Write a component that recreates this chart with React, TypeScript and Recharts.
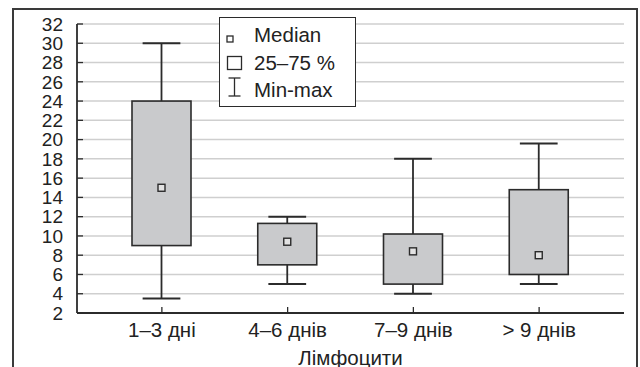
import React from "react";
import {
  ComposedChart,
  Bar,
  XAxis,
  YAxis,
  CartesianGrid,
} from "recharts";

// Group labels (days since onset)
const categories = ["1–3 дні", "4–6 днів", "7–9 днів", "> 9 днів"];
// Box-plot statistics per group
const minValues = [3.5, 5, 4, 5];
const q1Values = [9, 7, 5, 6];
const medianValues = [15, 9.4, 8.4, 8];
const q3Values = [24, 11.3, 10.2, 14.8];
const maxValues = [30, 12, 18, 19.6];
const yTicks = [2, 4, 6, 8, 10, 12, 14, 16, 18, 20, 22, 24, 26, 28, 30, 32];

const data = categories.map((name, i) => ({
  name,
  min: minValues[i],
  q1: q1Values[i],
  median: medianValues[i],
  q3: q3Values[i],
  max: maxValues[i],
}));

const FONT = "'Liberation Sans', Arial, Helvetica, sans-serif";
const DARK = "#2b2b2b";
const TEXT = "#222";

// Draws whisker, box and median marker inside the min..max band of each bar.
const BoxShape = (props: any) => {
  const { x, width, payload } = props;
  let { y, height } = props;
  if (height < 0) {
    y = y + height;
    height = -height;
  }
  const { min, q1, median, q3, max } = payload;
  const k = height / (max - min);
  const py = (v: number) => y + (max - v) * k;
  const cx = x + width / 2;
  const cap = width * 0.32;
  const m = 3.5;
  return (
    <g>
      <line x1={cx} x2={cx} y1={py(max)} y2={py(min)} stroke={DARK} strokeWidth={1.8} />
      <line x1={cx - cap} x2={cx + cap} y1={py(max)} y2={py(max)} stroke={DARK} strokeWidth={2} />
      <line x1={cx - cap} x2={cx + cap} y1={py(min)} y2={py(min)} stroke={DARK} strokeWidth={2} />
      <rect
        x={x}
        y={py(q3)}
        width={width}
        height={py(q1) - py(q3)}
        fill="#c9cacc"
        stroke={DARK}
        strokeWidth={1.6}
      />
      <rect
        x={cx - m}
        y={py(median) - m}
        width={m * 2}
        height={m * 2}
        fill="#e2e2e2"
        stroke={DARK}
        strokeWidth={1.4}
      />
    </g>
  );
};

const LegendBox = () => (
  <div
    style={{
      position: "absolute",
      left: 219,
      top: 17,
      width: 137,
      height: 90,
      border: `1.5px solid ${DARK}`,
      background: "#fff",
      fontFamily: FONT,
      fontSize: 20.5,
      color: TEXT,
      boxSizing: "border-box",
      whiteSpace: "nowrap",
    }}
  >
    <svg width={30} height={88} style={{ position: "absolute", left: 0, top: 0 }}>
      <rect x={7} y={18} width={6} height={6} fill="#fff" stroke={DARK} strokeWidth={1.3} />
      <rect x={7.5} y={38.5} width={14} height={13} fill="#fff" stroke={DARK} strokeWidth={1.3} />
      <line x1={14.5} x2={14.5} y1={60} y2={78} stroke={DARK} strokeWidth={1.3} />
      <line x1={8.5} x2={20.5} y1={60} y2={60} stroke={DARK} strokeWidth={1.3} />
      <line x1={8.5} x2={20.5} y1={78} y2={78} stroke={DARK} strokeWidth={1.3} />
    </svg>
    <div style={{ position: "absolute", left: 34, top: 7, lineHeight: "20px" }}>Median</div>
    <div style={{ position: "absolute", left: 34, top: 35, lineHeight: "20px" }}>25–75 %</div>
    <div style={{ position: "absolute", left: 34, top: 62, lineHeight: "20px" }}>Min-max</div>
  </div>
);

export default function App() {
  return (
    <div style={{ position: "absolute", left: 0, top: 0, width: 640, height: 367, overflow: "hidden", background: "#fff" }}>
      <div
        style={{
          position: "absolute",
          left: 12,
          top: 8,
          width: 626,
          height: 400,
          border: `2px solid #3a3a3a`,
          boxSizing: "border-box",
        }}
      />
      <ComposedChart
        width={640}
        height={367}
        data={data}
        margin={{ top: 24, right: 16, bottom: 0, left: 0 }}
        style={{ position: "absolute", left: 0, top: 0, fontFamily: FONT }}
      >
        <CartesianGrid vertical={false} stroke="#cfcfcf" strokeWidth={1.5} yAxisId="left" />
        <XAxis
          dataKey="name"
          xAxisId={0}
          height={54}
          padding={{ left: 22, right: 22 }}
          axisLine={{ stroke: DARK, strokeWidth: 1.8 }}
          tickLine={{ stroke: DARK, strokeWidth: 1.3 }}
          tickSize={-6}
          tickMargin={15}
          tick={{ fill: TEXT, fontSize: 20.5, fontFamily: FONT }}
          interval={0}
          label={{
            value: "Лімфоцити",
            position: "insideBottom",
            offset: 2,
            fill: TEXT,
            fontSize: 20.5,
            fontFamily: FONT,
          }}
        />
        <XAxis
          dataKey="name"
          xAxisId="top"
          orientation="top"
          height={0}
          padding={{ left: 22, right: 22 }}
          axisLine={{ stroke: DARK, strokeWidth: 1.8 }}
          tickLine={{ stroke: DARK, strokeWidth: 1.3 }}
          tickSize={-6}
          tick={false}
          interval={0}
        />
        <YAxis
          yAxisId="left"
          width={77}
          domain={[2, 32]}
          ticks={yTicks}
          interval={0}
          allowDataOverflow
          axisLine={{ stroke: DARK, strokeWidth: 1.8 }}
          tickLine={{ stroke: DARK, strokeWidth: 1.3 }}
          tickSize={-6}
          tickMargin={20}
          tick={{ fill: TEXT, fontSize: 19, fontFamily: FONT }}
        />
        <YAxis
          yAxisId="right"
          orientation="right"
          width={0}
          domain={[2, 32]}
          ticks={yTicks}
          interval={0}
          axisLine={{ stroke: DARK, strokeWidth: 1.8 }}
          tickLine={{ stroke: DARK, strokeWidth: 1.3 }}
          tickSize={-6}
          tick={false}
        />
        <Bar
          yAxisId="left"
          xAxisId={0}
          dataKey={(d: any) => [d.min, d.max]}
          barSize={59}
          shape={BoxShape}
          isAnimationActive={false}
        />
      </ComposedChart>
      <LegendBox />
    </div>
  );
}
